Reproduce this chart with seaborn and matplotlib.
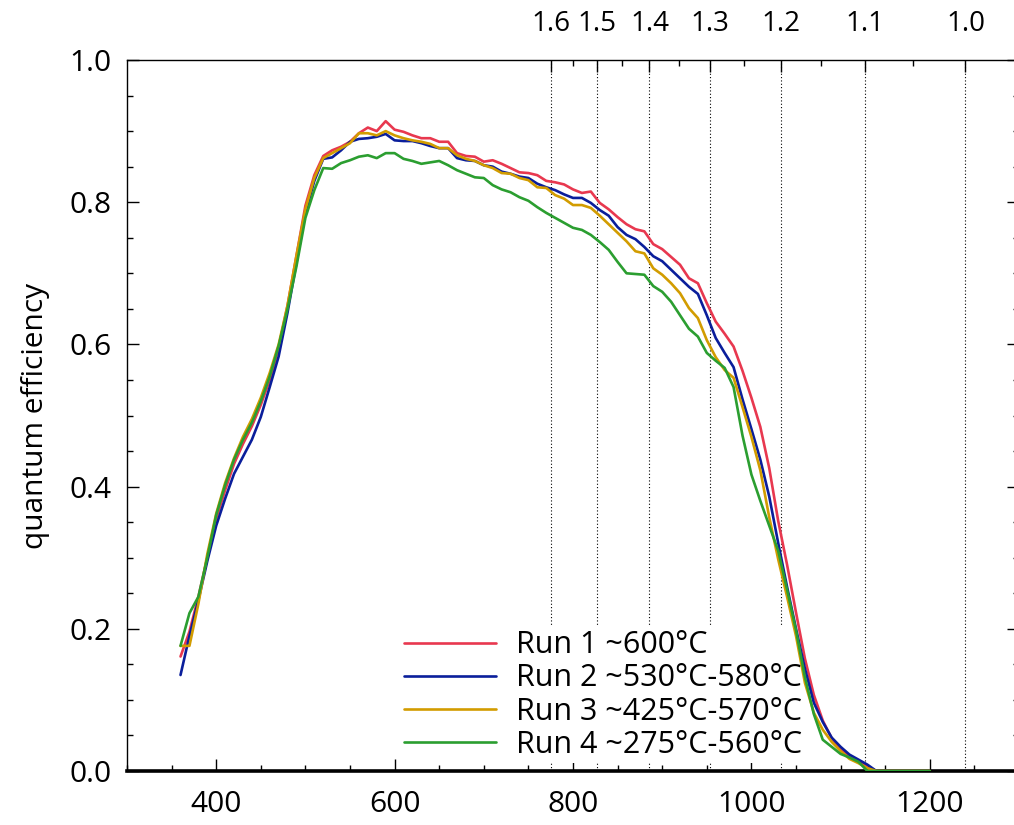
import numpy as np
import pandas as pd
import matplotlib
matplotlib.use("Agg")
import matplotlib.pyplot as plt
from matplotlib.ticker import FixedLocator, MultipleLocator, FormatStrFormatter
import seaborn as sns

# ---------------- data ----------------
wavelength = list(range(360, 1201, 10))

run1 = [0.161, 0.196, 0.245, 0.300, 0.355, 0.395, 0.432, 0.460, 0.485, 0.515,
        0.550, 0.595, 0.655, 0.725, 0.795, 0.838, 0.865, 0.873, 0.878, 0.885,
        0.897, 0.905, 0.900, 0.914, 0.902, 0.899, 0.894, 0.890, 0.890, 0.885,
        0.885, 0.869, 0.865, 0.864, 0.857, 0.859, 0.854, 0.848, 0.842, 0.841,
        0.838, 0.830, 0.828, 0.825, 0.818, 0.813, 0.815, 0.799, 0.790, 0.779,
        0.769, 0.762, 0.759, 0.741, 0.734, 0.723, 0.712, 0.693, 0.686, 0.658,
        0.632, 0.615, 0.597, 0.563, 0.525, 0.484, 0.426, 0.352, 0.290, 0.223,
        0.158, 0.107, 0.071, 0.046, 0.031, 0.020, 0.013, 0.007,
        0.0, 0.0, 0.0, 0.0, 0.0, 0.0, 0.0]

run2 = [0.135, 0.190, 0.240, 0.295, 0.345, 0.383, 0.418, 0.442, 0.466, 0.498,
        0.540, 0.583, 0.645, 0.715, 0.785, 0.830, 0.861, 0.863, 0.873, 0.885,
        0.889, 0.890, 0.892, 0.896, 0.887, 0.886, 0.886, 0.883, 0.879, 0.876,
        0.876, 0.862, 0.859, 0.858, 0.852, 0.850, 0.843, 0.840, 0.836, 0.834,
        0.826, 0.821, 0.817, 0.811, 0.806, 0.806, 0.799, 0.789, 0.781, 0.765,
        0.754, 0.748, 0.737, 0.724, 0.717, 0.705, 0.693, 0.681, 0.671, 0.641,
        0.609, 0.588, 0.568, 0.523, 0.481, 0.438, 0.386, 0.321, 0.259, 0.200,
        0.144, 0.096, 0.069, 0.047, 0.034, 0.023, 0.016, 0.009,
        0.0, 0.0, 0.0, 0.0, 0.0, 0.0, 0.0]

run3 = [0.176, 0.176, 0.235, 0.305, 0.362, 0.405, 0.440, 0.470, 0.495, 0.525,
        0.560, 0.600, 0.655, 0.725, 0.790, 0.834, 0.862, 0.869, 0.876, 0.883,
        0.897, 0.897, 0.894, 0.900, 0.894, 0.890, 0.887, 0.885, 0.882, 0.876,
        0.876, 0.866, 0.861, 0.858, 0.852, 0.848, 0.841, 0.840, 0.834, 0.831,
        0.821, 0.820, 0.810, 0.805, 0.796, 0.796, 0.792, 0.781, 0.769, 0.757,
        0.745, 0.731, 0.728, 0.707, 0.698, 0.686, 0.672, 0.651, 0.637, 0.606,
        0.582, 0.564, 0.553, 0.512, 0.470, 0.423, 0.357, 0.298, 0.245, 0.190,
        0.124, 0.082, 0.058, 0.041, 0.028, 0.017, 0.011, 0.004,
        0.0, 0.0, 0.0, 0.0, 0.0, 0.0, 0.0]

run4 = [0.176, 0.222, 0.245, 0.300, 0.360, 0.402, 0.438, 0.466, 0.490, 0.520,
        0.555, 0.598, 0.650, 0.710, 0.778, 0.817, 0.848, 0.847, 0.855, 0.859,
        0.864, 0.866, 0.862, 0.869, 0.869, 0.861, 0.858, 0.854, 0.856, 0.858,
        0.852, 0.845, 0.840, 0.835, 0.834, 0.824, 0.818, 0.814, 0.807, 0.802,
        0.793, 0.785, 0.778, 0.771, 0.764, 0.761, 0.754, 0.744, 0.733, 0.716,
        0.700, 0.699, 0.698, 0.682, 0.674, 0.660, 0.641, 0.622, 0.611, 0.588,
        0.577, 0.567, 0.540, 0.472, 0.417, 0.380, 0.345, 0.310, 0.255, 0.198,
        0.132, 0.080, 0.044, 0.034, 0.024, 0.019, 0.013, 0.000,
        0.0, 0.0, 0.0, 0.0, 0.0, 0.0, 0.0]

run_labels = ["Run 1 ~600°C", "Run 2 ~530°C-580°C",
              "Run 3 ~425°C-570°C", "Run 4 ~275°C-560°C"]
run_colors = ["#E8384F", "#0A1E9B", "#D29C00", "#2B9E30"]

energy_ticks = [1.6, 1.5, 1.4, 1.3, 1.2, 1.1, 1.0]
energy_minor = [1.55, 1.45, 1.35, 1.25, 1.15, 1.05]
HC = 1240.0

# ---------------- table ----------------
frames = []
for lab, vals in zip(run_labels, [run1, run2, run3, run4]):
    frames.append(pd.DataFrame({"wavelength": wavelength, "qe": vals, "run": lab}))
df = pd.concat(frames, ignore_index=True)

# ---------------- style ----------------
sns.set_theme(style="ticks")
plt.rcParams["font.family"] = ["Open Sans", "DejaVu Sans"]
plt.rcParams["axes.linewidth"] = 1.0
plt.rcParams["text.color"] = "black"
plt.rcParams["axes.labelcolor"] = "black"
plt.rcParams["xtick.color"] = "black"
plt.rcParams["ytick.color"] = "black"
plt.rcParams["xtick.labelcolor"] = "black"
plt.rcParams["ytick.labelcolor"] = "black"
plt.rcParams["axes.edgecolor"] = "black"

fig = plt.figure(figsize=(10.14, 8.25), dpi=100)
ax = fig.add_axes([127 / 1014, 54 / 825, 892 / 1014, 711 / 825])

sns.lineplot(data=df, x="wavelength", y="qe", hue="run",
             palette=dict(zip(run_labels, run_colors)), hue_order=run_labels,
             estimator=None, sort=False, linewidth=1.9, ax=ax, zorder=6,
             legend=True)

# energy guide lines
for e in energy_ticks:
    ax.axvline(HC / e, color="black", linestyle=(0, (1, 2)), linewidth=0.8,
               zorder=1)

ax.set_xlim(300, 1300)
ax.set_ylim(0, 1.0)

ax.xaxis.set_major_locator(MultipleLocator(200))
ax.xaxis.set_minor_locator(MultipleLocator(50))
ax.yaxis.set_major_locator(MultipleLocator(0.2))
ax.yaxis.set_minor_locator(MultipleLocator(0.05))
ax.yaxis.set_major_formatter(FormatStrFormatter("%.1f"))

ax.tick_params(axis="both", which="both", direction="in", top=False,
               right=True, color="black", labelcolor="black")
ax.tick_params(axis="both", which="major", length=8.5, width=1.0,
               labelsize=21.5, pad=11)
ax.tick_params(axis="both", which="minor", length=4.5, width=1.0)
ax.tick_params(axis="x", which="major", pad=14)

for s in ["left", "right", "top"]:
    ax.spines[s].set_linewidth(1.0)
    ax.spines[s].set_color("black")
ax.spines["bottom"].set_linewidth(2.6)
ax.spines["bottom"].set_color("black")
ax.spines["top"].set_visible(False)

ax.set_xlabel("")
ax.set_ylabel("quantum efficiency", fontsize=21.5, labelpad=14, color="black")


def wl_to_e(x):
    x = np.asarray(x, dtype=float)
    with np.errstate(divide="ignore", invalid="ignore"):
        return HC / x


secax = ax.secondary_xaxis("top", functions=(wl_to_e, wl_to_e))
secax.xaxis.set_major_locator(FixedLocator(energy_ticks))
secax.xaxis.set_minor_locator(FixedLocator(energy_minor))
secax.xaxis.set_major_formatter(FormatStrFormatter("%.1f"))
secax.tick_params(which="both", direction="in", color="black",
                  labelcolor="black")
secax.tick_params(which="major", length=8.5, width=1.0, labelsize=20, pad=16)
secax.tick_params(which="minor", length=4.5, width=1.0)
secax.spines["top"].set_linewidth(1.0)
secax.spines["top"].set_color("black")

handles, labels = ax.get_legend_handles_labels()
leg = ax.legend(handles, labels, loc="center left",
                bbox_to_anchor=(401 / 1014, 1 - 695 / 825),
                bbox_transform=fig.transFigure, frameon=True,
                facecolor="white", edgecolor="none", framealpha=1.0,
                borderpad=0.1, borderaxespad=0, handlelength=3.0,
                handletextpad=0.66, labelspacing=0.1, fontsize=22)
for h in leg.get_lines():
    h.set_linewidth(1.9)
for t in leg.get_texts():
    t.set_color("black")
leg.set_zorder(5)

fig.savefig("out.png", dpi=100)
